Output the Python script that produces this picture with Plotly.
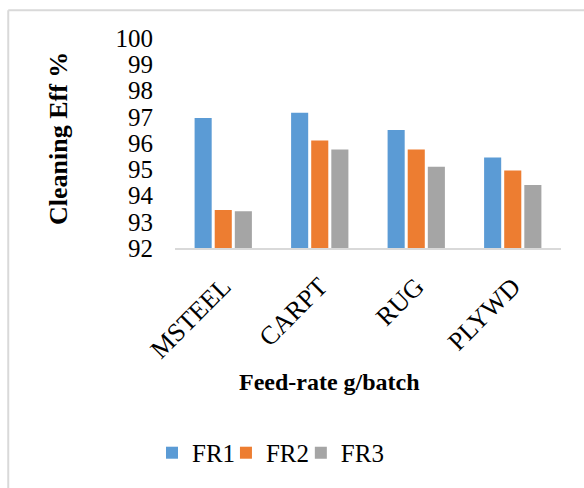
import plotly.graph_objects as go

categories = ["MSTEEL", "CARPT", "RUG", "PLYWD"]
fr1 = [96.95, 97.15, 96.5, 95.45]
fr2 = [93.45, 96.1, 95.75, 94.95]
fr3 = [93.4, 95.75, 95.1, 94.4]
series_names = ["FR1", "FR2", "FR3"]
colors = ["#5B9BD5", "#ED7D31", "#A5A5A5"]
y_ticks = list(range(92, 101))

FONT = "Times New Roman, Liberation Serif, serif"
legend_ids = ["legend", "legend2", "legend3"]
legend_x = [-0.0596, 0.132, 0.326]

fig = go.Figure()
for name, vals, col, lid in zip(series_names, [fr1, fr2, fr3], colors, legend_ids):
    fig.add_trace(go.Bar(
        x=categories, y=vals, name=name, legend=lid,
        marker=dict(color=col, line=dict(width=0)),
    ))

legend_common = dict(
    orientation="h", xanchor="left", y=-0.976, yanchor="middle",
    font=dict(family=FONT, size=25, color="black"),
    bgcolor="rgba(0,0,0,0)",
)

fig.update_layout(
    width=584, height=488,
    margin=dict(l=175, r=23, t=38, b=238),
    paper_bgcolor="white", plot_bgcolor="white",
    barmode="group", bargap=0.375, bargroupgap=0.15,
    font=dict(family=FONT, color="black", size=24),
    showlegend=True,
    legend=dict(x=legend_x[0], **legend_common),
    legend2=dict(x=legend_x[1], **legend_common),
    legend3=dict(x=legend_x[2], **legend_common),
    xaxis=dict(
        showgrid=False, showline=True, linecolor="#d9d9d9", linewidth=2,
        tickangle=-45, tickfont=dict(family=FONT, size=26, color="black"),
        ticks="", ticklabelstandoff=11,
    ),
    yaxis=dict(
        range=[92, 100], tickvals=y_ticks, showgrid=False, showline=False,
        zeroline=False, ticks="", ticklabelstandoff=21,
        tickfont=dict(family=FONT, size=25, color="black"),
    ),
    annotations=[
        dict(text="<b>Feed-rate g/batch</b>", xref="paper", yref="paper",
             x=0.399, y=-0.637, xanchor="center", yanchor="middle",
             showarrow=False, font=dict(family=FONT, size=24, color="black")),
        dict(text="<b>Cleaning Eff %</b>", xref="paper", yref="paper",
             x=-0.303, y=0.519, xanchor="center", yanchor="middle", textangle=-90,
             showarrow=False, font=dict(family=FONT, size=26, color="black")),
    ],
    shapes=[
        dict(type="line", xref="paper", yref="paper", x0=-0.432, x1=1.2,
             y0=1.132, y1=1.132, line=dict(color="#d9d9d9", width=2)),
        dict(type="line", xref="paper", yref="paper", x0=-0.432, x1=-0.432,
             y0=1.132, y1=-1.5, line=dict(color="#d9d9d9", width=2)),
    ],
)

fig.write_html("out.html")
